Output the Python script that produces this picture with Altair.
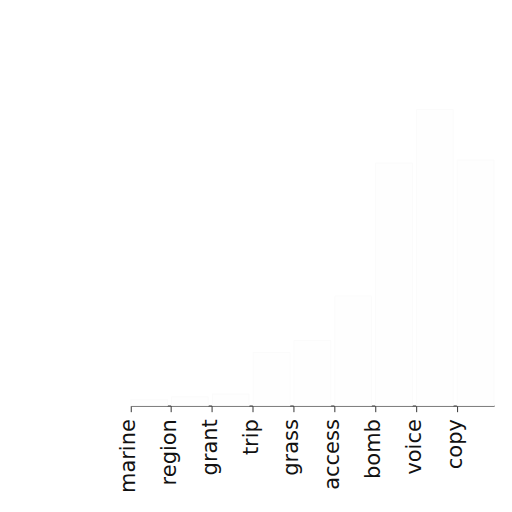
import altair as alt
import pandas as pd

categories = ["marine", "region", "grant", "trip", "grass", "access", "bomb", "voice", "copy"]
values = [2, 3, 4, 18, 22, 37, 82, 100, 83]

df = pd.DataFrame({"category": categories, "value": values})

chart = alt.Chart(df).mark_bar(color="#fefefe", stroke="#fbfbfb", strokeWidth=1).encode(
    x=alt.X(
        "category:N",
        sort=categories,
        scale=alt.Scale(paddingInner=0.1, paddingOuter=0),
        axis=alt.Axis(
            title=None,
            labelAngle=-90,
            labelFontSize=21,
            labelFont="DejaVu Sans",
            labelColor="#111111",
            labelPadding=7,
            labelOffset=-20,
            tickSize=6,
            tickColor="#333333",
            domainColor="#333333",
            domainWidth=1.2,
            bandPosition=0,
            grid=False,
        ),
    ),
    y=alt.Y("value:Q", axis=None, scale=alt.Scale(domain=[0, 120])),
).properties(
    width=364,
    height=356,
    autosize=alt.AutoSizeParams(type="none"),
    padding={"left": 123, "top": 42, "right": 10, "bottom": 96},
).configure_view(stroke=None)

chart.save("out.html", embed_options={"renderer": "svg", "actions": False})
